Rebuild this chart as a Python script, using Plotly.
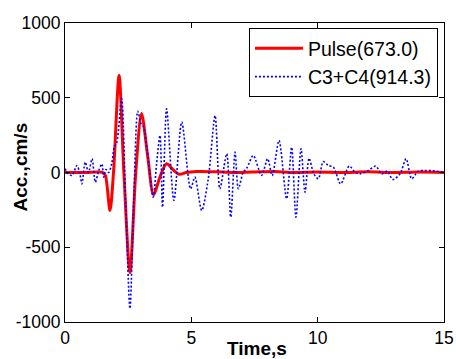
import plotly.graph_objects as go

# Pulse series (time in s, acceleration in cm/s)
pulse_t = [0, 0.8, 1.5, 1.6, 1.78, 1.92, 2.14, 2.33, 2.57, 2.8, 3.03, 3.28, 3.5, 3.78, 4.02,
           4.3, 4.52, 4.8, 5.2, 6.0, 6.6, 7.4, 8.3, 9.0, 10.0, 11.0, 12.0, 13.0, 14.0, 15.0]
pulse_v = [0, 0, 0, -20, -255, 0, 650, 0, -670, 0, 394, 100, -148, -20, 58,
           15, -12, 0, 7, 5, 0, 3, 7, 0, 3, 0, 5, 0, 3, 0]

# C3+C4 series
c34_t = [0.0, 0.14, 0.28, 0.47, 0.58, 0.67, 0.8, 0.93, 1.07, 1.2, 1.33, 1.46, 1.53, 1.62, 1.73,
         1.85, 1.95, 2.05, 2.24, 2.4, 2.57, 2.72, 2.88, 3.0, 3.1, 3.25, 3.49, 3.62, 3.76, 3.86,
         4.02, 4.31, 4.62, 4.97, 5.14, 5.41, 5.67, 5.94, 6.13, 6.4, 6.56, 6.73, 6.86, 7.05, 7.2,
         7.45, 7.78, 8.02, 8.2, 8.47, 8.77, 8.97, 9.14, 9.34, 9.5, 9.66, 9.85, 10.03, 10.22, 10.42,
         10.62, 10.91, 11.25, 11.48, 11.67, 12.0, 12.3, 12.53, 12.76, 12.97, 13.26, 13.5, 13.72, 13.98, 14.25,
         14.5, 14.7, 14.95, 15.0]
c34_v = [25, -10, -20, 47, 0, -76, 69, 0, 92, -65, 10, 58, -31, 20, 0,
         60, 170, 200, 495, -200, -910, -200, 410, 330, 310, 150, -165, 50, 248, -232,
         426, -187, 337, -109, -31, -254, -42, 381, -109, 125, -299, 136, -109, 0, 30,
         114, -20, 92, -20, 214, -176, 169, -299, 158, -131, 95, -10, -42, 73, 47,
         36, -76, 43, 2, -9, 13, 43, -9, 9, -47, -9, 92, -42, 9, 13,
         13, 9, 2, 0]

x_ticks = [0, 5, 10, 15]
y_ticks = [-1000, -500, 0, 500, 1000]
y_ticktext = ["-1000", "-500", "0", "500", "1000"]
x_title = "Time,s"
y_title = "Acc.,cm/s"

FONT = "Liberation Sans, Arial, sans-serif"
TICK_SIZE = 17.5
LEG_SIZE = 19.5
TITLE_SIZE = 19

fig = go.Figure()
fig.add_trace(go.Scatter(x=pulse_t, y=pulse_v, mode="lines", name="Pulse(673.0)",
                         line=dict(color="#ff0000", width=3, shape="spline", smoothing=0.8)))
fig.add_trace(go.Scatter(x=c34_t, y=c34_v, mode="lines", name="C3+C4(914.3)",
                         line=dict(color="#0000ff", width=1.6, dash="2px,2px", shape="spline", smoothing=0.8)))

axis_common = dict(showline=True, linecolor="black", linewidth=1, mirror="ticks",
                   ticks="inside", ticklen=5, tickcolor="black", showgrid=False, zeroline=False,
                   automargin=False,
                   tickfont=dict(family=FONT, size=TICK_SIZE, color="black"))

fig.update_xaxes(range=[0, 15], tickvals=x_ticks, ticktext=[str(v) for v in x_ticks], **axis_common)
fig.update_yaxes(range=[-1000, 1000], tickvals=y_ticks, ticktext=y_ticktext, **axis_common)

fig.add_annotation(text="<b>" + x_title + "</b>", xref="paper", yref="paper",
                   x=0.5066, y=-0.087, xanchor="center", yanchor="middle", showarrow=False,
                   font=dict(family=FONT, size=TITLE_SIZE, color="black"))
fig.add_annotation(text="<b>" + y_title + "</b>", xref="paper", yref="paper",
                   x=-0.1187, y=0.5167, xanchor="center", yanchor="middle", showarrow=False,
                   textangle=-90, font=dict(family=FONT, size=TITLE_SIZE, color="black"))

fig.update_layout(
    width=456, height=359,
    margin=dict(l=65, r=12, t=23, b=37),
    paper_bgcolor="white", plot_bgcolor="white",
    font=dict(family=FONT, size=TICK_SIZE, color="black"),
    legend=dict(x=0.984, y=0.983, xanchor="right", yanchor="top",
                bordercolor="black", borderwidth=1, bgcolor="white",
                font=dict(family=FONT, size=LEG_SIZE, color="black"),
                tracegroupgap=0, itemwidth=48),
    showlegend=True,
)

fig.write_html("out.html")
